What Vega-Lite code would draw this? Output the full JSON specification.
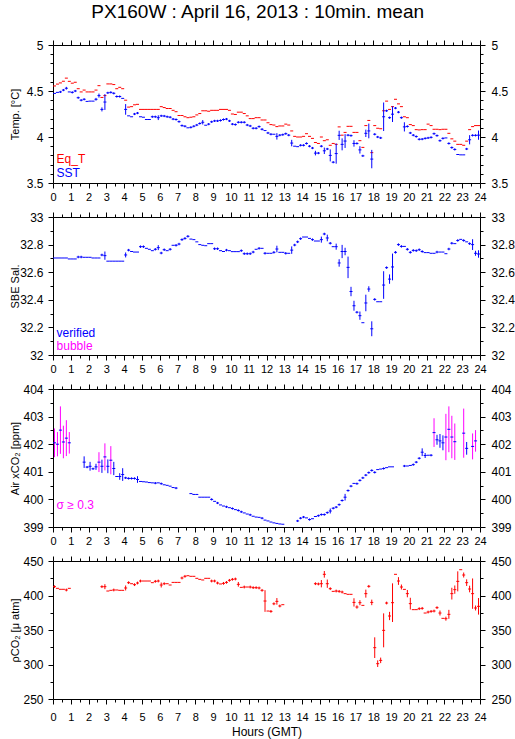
{
"$schema": "https://vega.github.io/schema/vega-lite/v6.json",
"title": {"text": "PX160W : April 16, 2013 : 10min. mean", "anchor": "middle", "fontSize": 19, "font": "Liberation Sans", "fontWeight": "normal", "color": "#000000", "offset": 17, "dx": -4},
"padding": {"left": 8, "top": 2, "right": 2, "bottom": 2},
"spacing": 34,
"bounds": "flush",
"resolve": {"scale": {"color": "independent"}},
"datasets": {
"eq": [
{"m":5,"v":4.555},{"m":15,"v":4.575},{"m":25,"v":4.588},{"m":35,"v":4.606},{"m":45,"v":4.64},{"m":55,"v":4.605},{"m":65,"v":4.585},{"m":75,"v":4.595},{"m":85,"v":4.525},{"m":95,"v":4.49},{"m":105,"v":4.51},{"m":115,"v":4.49},{"m":125,"v":4.49},{"m":135,"v":4.49},{"m":145,"v":4.51},{"m":155,"v":4.558},{"m":165,"v":4.43},{"m":175,"v":4.45},{"m":185,"v":4.577},{"m":195,"v":4.577},{"m":205,"v":4.57},{"m":215,"v":4.525},{"m":225,"v":4.54},{"m":235,"v":4.525},{"m":245,"v":4.4},{"m":255,"v":4.325},{"m":265,"v":4.33},{"m":275,"v":4.35},{"m":285,"v":4.355},{"m":295,"v":4.3},{"m":305,"v":4.3},{"m":315,"v":4.3},{"m":325,"v":4.3},{"m":335,"v":4.3},{"m":345,"v":4.3},{"m":355,"v":4.3},{"m":365,"v":4.33},{"m":375,"v":4.32},{"m":385,"v":4.31},{"m":395,"v":4.31},{"m":405,"v":4.29},{"m":415,"v":4.275},{"m":425,"v":4.234},{"m":435,"v":4.234},{"m":445,"v":4.22},{"m":455,"v":4.21},{"m":465,"v":4.215},{"m":475,"v":4.22},{"m":485,"v":4.24},{"m":495,"v":4.255},{"m":505,"v":4.285},{"m":515,"v":4.285},{"m":525,"v":4.28},{"m":535,"v":4.29},{"m":545,"v":4.29},{"m":555,"v":4.29},{"m":565,"v":4.3},{"m":575,"v":4.3},{"m":585,"v":4.3},{"m":595,"v":4.29},{"m":605,"v":4.25},{"m":615,"v":4.245},{"m":625,"v":4.27},{"m":635,"v":4.27},{"m":645,"v":4.255},{"m":655,"v":4.23},{"m":665,"v":4.2},{"m":675,"v":4.2},{"m":685,"v":4.21},{"m":695,"v":4.21},{"m":705,"v":4.185},{"m":715,"v":4.185},{"m":725,"v":4.155},{"m":735,"v":4.135},{"m":745,"v":4.13},{"m":755,"v":4.113},{"m":765,"v":4.12},{"m":775,"v":4.12},{"m":785,"v":4.14},{"m":795,"v":4.13},{"m":805,"v":4.066},{"m":815,"v":4.007},{"m":825,"v":4.0},{"m":835,"v":4.0},{"m":845,"v":4.007},{"m":855,"v":4.036},{"m":865,"v":4.007},{"m":875,"v":3.985},{"m":885,"v":3.94},{"m":895,"v":3.93},{"m":905,"v":4.0},{"m":915,"v":3.96},{"m":925,"v":3.97},{"m":935,"v":3.91},{"m":945,"v":3.93},{"m":955,"v":3.92},{"m":965,"v":4.11},{"m":975,"v":4.02},{"m":985,"v":4.05},{"m":995,"v":4.116},{"m":1005,"v":4.116},{"m":1015,"v":4.05},{"m":1025,"v":4.05},{"m":1035,"v":3.96},{"m":1045,"v":3.887},{"m":1055,"v":4.124},{"m":1065,"v":4.18},{"m":1075,"v":3.83},{"m":1085,"v":4.124},{"m":1095,"v":4.095},{"m":1105,"v":4.09},{"m":1115,"v":4.285},{"m":1125,"v":4.39},{"m":1135,"v":4.3},{"m":1145,"v":4.33},{"m":1155,"v":4.41},{"m":1165,"v":4.36},{"m":1175,"v":4.33},{"m":1185,"v":4.22},{"m":1195,"v":4.21},{"m":1205,"v":4.135},{"m":1215,"v":4.124},{"m":1225,"v":4.08},{"m":1235,"v":4.077},{"m":1245,"v":4.08},{"m":1255,"v":4.08},{"m":1265,"v":4.14},{"m":1275,"v":4.124},{"m":1285,"v":4.084},{"m":1295,"v":4.084},{"m":1305,"v":4.08},{"m":1315,"v":4.084},{"m":1325,"v":4.084},{"m":1335,"v":4.04},{"m":1345,"v":3.98},{"m":1355,"v":3.955},{"m":1365,"v":3.92},{"m":1375,"v":3.92},{"m":1385,"v":3.91},{"m":1395,"v":3.955},{"m":1405,"v":4.08},{"m":1415,"v":4.113},{"m":1425,"v":4.124},{"m":1435,"v":4.124}
],
"sst": [
{"m":5,"v":4.474},{"m":15,"v":4.485},{"m":25,"v":4.49,"e":0.012},{"m":35,"v":4.51,"e":0.012},{"m":45,"v":4.53,"e":0.015},{"m":55,"v":4.49},{"m":65,"v":4.485,"e":0.012},{"m":75,"v":4.5,"e":0.012},{"m":85,"v":4.427,"e":0.012},{"m":95,"v":4.4,"e":0.012},{"m":105,"v":4.41,"e":0.012},{"m":115,"v":4.387},{"m":125,"v":4.39},{"m":135,"v":4.39},{"m":145,"v":4.41,"e":0.015},{"m":155,"v":4.45,"e":0.022},{"m":165,"v":4.3,"e":0.022},{"m":175,"v":4.38,"e":0.086},{"m":185,"v":4.48,"e":0.012},{"m":195,"v":4.485,"e":0.012},{"m":205,"v":4.475,"e":0.012},{"m":215,"v":4.44,"e":0.012},{"m":225,"v":4.44,"e":0.012},{"m":235,"v":4.42},{"m":245,"v":4.3,"e":0.058},{"m":255,"v":4.23},{"m":265,"v":4.22},{"m":275,"v":4.25,"e":0.012},{"m":285,"v":4.26,"e":0.012},{"m":295,"v":4.22},{"m":305,"v":4.215},{"m":315,"v":4.19},{"m":325,"v":4.19},{"m":335,"v":4.22,"e":0.012},{"m":345,"v":4.22,"e":0.012},{"m":355,"v":4.21,"e":0.026},{"m":365,"v":4.23,"e":0.012},{"m":375,"v":4.228,"e":0.012},{"m":385,"v":4.22,"e":0.012},{"m":395,"v":4.215,"e":0.012},{"m":405,"v":4.195,"e":0.012},{"m":415,"v":4.19,"e":0.012},{"m":425,"v":4.167,"e":0.012},{"m":435,"v":4.124,"e":0.012},{"m":445,"v":4.117,"e":0.012},{"m":455,"v":4.1},{"m":465,"v":4.105,"e":0.012},{"m":475,"v":4.117,"e":0.012},{"m":485,"v":4.13,"e":0.012},{"m":495,"v":4.147,"e":0.012},{"m":505,"v":4.16,"e":0.024},{"m":515,"v":4.128},{"m":525,"v":4.14,"e":0.012},{"m":535,"v":4.165,"e":0.012},{"m":545,"v":4.175,"e":0.012},{"m":555,"v":4.175,"e":0.012},{"m":565,"v":4.18,"e":0.012},{"m":575,"v":4.19,"e":0.012},{"m":585,"v":4.195,"e":0.012},{"m":595,"v":4.175,"e":0.012},{"m":605,"v":4.14,"e":0.012},{"m":615,"v":4.135,"e":0.012},{"m":625,"v":4.16,"e":0.012},{"m":635,"v":4.16,"e":0.012},{"m":645,"v":4.16,"e":0.012},{"m":655,"v":4.13,"e":0.012},{"m":665,"v":4.12,"e":0.012},{"m":675,"v":4.095,"e":0.012},{"m":685,"v":4.095,"e":0.012},{"m":695,"v":4.113,"e":0.012},{"m":705,"v":4.084,"e":0.012},{"m":715,"v":4.07},{"m":725,"v":4.044,"e":0.012},{"m":735,"v":4.03,"e":0.012},{"m":745,"v":4.03},{"m":755,"v":4.007,"e":0.035},{"m":765,"v":4.02,"e":0.012},{"m":775,"v":4.025,"e":0.012},{"m":785,"v":4.036,"e":0.012},{"m":795,"v":4.02,"e":0.012},{"m":805,"v":3.934,"e":0.035},{"m":815,"v":3.9},{"m":825,"v":3.895},{"m":835,"v":3.91,"e":0.012},{"m":845,"v":3.91,"e":0.012},{"m":855,"v":3.93,"e":0.012},{"m":865,"v":3.9,"e":0.012},{"m":875,"v":3.88,"e":0.012},{"m":885,"v":3.825,"e":0.025},{"m":895,"v":3.825,"e":0.012},{"m":905,"v":3.9,"e":0.012},{"m":915,"v":3.85,"e":0.035},{"m":925,"v":3.87,"e":0.012},{"m":935,"v":3.8,"e":0.065},{"m":945,"v":3.726,"e":0.012},{"m":955,"v":3.82,"e":0.11},{"m":965,"v":4.018,"e":0.05},{"m":975,"v":3.92,"e":0.065},{"m":985,"v":3.956,"e":0.075},{"m":995,"v":4.02,"e":0.012},{"m":1005,"v":4.015,"e":0.012},{"m":1015,"v":3.93,"e":0.035},{"m":1025,"v":3.93,"e":0.012},{"m":1035,"v":3.86,"e":0.04},{"m":1045,"v":3.795,"e":0.012},{"m":1055,"v":4.04,"e":0.04},{"m":1065,"v":4.066,"e":0.08},{"m":1075,"v":3.76,"e":0.1},{"m":1085,"v":4.03,"e":0.012},{"m":1095,"v":4.0,"e":0.012},{"m":1105,"v":3.99,"e":0.012},{"m":1115,"v":4.22,"e":0.155},{"m":1125,"v":4.285,"e":0.012},{"m":1135,"v":4.21,"e":0.012},{"m":1145,"v":4.248,"e":0.085},{"m":1155,"v":4.314,"e":0.012},{"m":1165,"v":4.27,"e":0.012},{"m":1175,"v":4.21,"e":0.012},{"m":1185,"v":4.11,"e":0.05},{"m":1195,"v":4.115,"e":0.012},{"m":1205,"v":4.044,"e":0.012},{"m":1215,"v":4.02,"e":0.012},{"m":1225,"v":4.005,"e":0.012},{"m":1235,"v":3.975,"e":0.012},{"m":1245,"v":3.977,"e":0.012},{"m":1255,"v":3.985,"e":0.012},{"m":1265,"v":3.99,"e":0.012},{"m":1275,"v":3.996,"e":0.012},{"m":1285,"v":4.036,"e":0.012},{"m":1295,"v":4.015,"e":0.012},{"m":1305,"v":3.96,"e":0.012},{"m":1315,"v":3.985,"e":0.012},{"m":1325,"v":3.99},{"m":1335,"v":3.93,"e":0.012},{"m":1345,"v":3.885,"e":0.012},{"m":1355,"v":3.865,"e":0.012},{"m":1365,"v":3.81},{"m":1375,"v":3.806},{"m":1385,"v":3.806},{"m":1395,"v":3.87,"e":0.012},{"m":1405,"v":3.97,"e":0.05},{"m":1415,"v":4.018,"e":0.012},{"m":1425,"v":4.018,"e":0.012},{"m":1435,"v":4.02,"e":0.05}
],
"sal": [
{"m":5,"v":32.703},{"m":15,"v":32.703},{"m":25,"v":32.703},{"m":35,"v":32.703},{"m":45,"v":32.703},{"m":55,"v":32.696},{"m":65,"v":32.696},{"m":75,"v":32.696},{"m":85,"v":32.71,"e":0.009},{"m":95,"v":32.71,"e":0.009},{"m":105,"v":32.708},{"m":115,"v":32.708},{"m":125,"v":32.708},{"m":135,"v":32.703},{"m":145,"v":32.703},{"m":155,"v":32.703},{"m":165,"v":32.725,"e":0.009},{"m":175,"v":32.72,"e":0.03},{"m":185,"v":32.68},{"m":195,"v":32.68},{"m":205,"v":32.68},{"m":215,"v":32.68},{"m":225,"v":32.68},{"m":235,"v":32.68},{"m":245,"v":32.725,"e":0.018},{"m":255,"v":32.76,"e":0.009},{"m":265,"v":32.75},{"m":275,"v":32.746},{"m":285,"v":32.746},{"m":295,"v":32.785,"e":0.009},{"m":305,"v":32.785,"e":0.009},{"m":315,"v":32.773},{"m":325,"v":32.766},{"m":335,"v":32.756},{"m":345,"v":32.766,"e":0.009},{"m":355,"v":32.778,"e":0.018},{"m":365,"v":32.739,"e":0.009},{"m":375,"v":32.763,"e":0.009},{"m":385,"v":32.756},{"m":395,"v":32.766,"e":0.009},{"m":405,"v":32.795},{"m":415,"v":32.795,"e":0.009},{"m":425,"v":32.804,"e":0.009},{"m":435,"v":32.836,"e":0.009},{"m":445,"v":32.845,"e":0.009},{"m":455,"v":32.86,"e":0.009},{"m":465,"v":32.84},{"m":475,"v":32.836},{"m":485,"v":32.82},{"m":495,"v":32.8},{"m":505,"v":32.795},{"m":515,"v":32.792},{"m":525,"v":32.807},{"m":535,"v":32.807},{"m":545,"v":32.77,"e":0.009},{"m":555,"v":32.77,"e":0.009},{"m":565,"v":32.756},{"m":575,"v":32.75},{"m":585,"v":32.76,"e":0.009},{"m":595,"v":32.756},{"m":605,"v":32.749},{"m":615,"v":32.749},{"m":625,"v":32.749},{"m":635,"v":32.756,"e":0.009},{"m":645,"v":32.734,"e":0.009},{"m":655,"v":32.734,"e":0.009},{"m":665,"v":32.734,"e":0.009},{"m":675,"v":32.746,"e":0.009},{"m":685,"v":32.766},{"m":695,"v":32.773,"e":0.009},{"m":705,"v":32.773},{"m":715,"v":32.737,"e":0.009},{"m":725,"v":32.737},{"m":735,"v":32.737},{"m":745,"v":32.744,"e":0.009},{"m":755,"v":32.768,"e":0.024},{"m":765,"v":32.744},{"m":775,"v":32.744},{"m":785,"v":32.737,"e":0.009},{"m":795,"v":32.737},{"m":805,"v":32.76,"e":0.027},{"m":815,"v":32.797,"e":0.009},{"m":825,"v":32.82,"e":0.009},{"m":835,"v":32.843,"e":0.009},{"m":845,"v":32.855},{"m":855,"v":32.855},{"m":865,"v":32.845},{"m":875,"v":32.836,"e":0.009},{"m":885,"v":32.826},{"m":895,"v":32.826},{"m":905,"v":32.836,"e":0.022},{"m":915,"v":32.877,"e":0.009},{"m":925,"v":32.848,"e":0.024},{"m":935,"v":32.81,"e":0.009},{"m":945,"v":32.785},{"m":955,"v":32.785,"e":0.022},{"m":965,"v":32.667,"e":0.027},{"m":975,"v":32.75,"e":0.048},{"m":985,"v":32.75,"e":0.027},{"m":995,"v":32.635,"e":0.078},{"m":1005,"v":32.46,"e":0.034},{"m":1015,"v":32.357,"e":0.036},{"m":1025,"v":32.31,"e":0.009},{"m":1035,"v":32.285,"e":0.03},{"m":1045,"v":32.234},{"m":1055,"v":32.377,"e":0.06},{"m":1065,"v":32.478,"e":0.02},{"m":1075,"v":32.19,"e":0.054},{"m":1085,"v":32.403,"e":0.009},{"m":1095,"v":32.386},{"m":1105,"v":32.386},{"m":1115,"v":32.507,"e":0.1},{"m":1125,"v":32.633,"e":0.009},{"m":1135,"v":32.55,"e":0.034},{"m":1145,"v":32.638,"e":0.097},{"m":1155,"v":32.744,"e":0.009},{"m":1165,"v":32.8,"e":0.009},{"m":1175,"v":32.787,"e":0.009},{"m":1185,"v":32.787},{"m":1195,"v":32.766,"e":0.009},{"m":1205,"v":32.744,"e":0.009},{"m":1215,"v":32.758,"e":0.009},{"m":1225,"v":32.756,"e":0.009},{"m":1235,"v":32.763,"e":0.009},{"m":1245,"v":32.75,"e":0.009},{"m":1255,"v":32.742},{"m":1265,"v":32.742},{"m":1275,"v":32.737},{"m":1285,"v":32.737},{"m":1295,"v":32.746,"e":0.009},{"m":1305,"v":32.746},{"m":1315,"v":32.746},{"m":1325,"v":32.734},{"m":1335,"v":32.768,"e":0.009},{"m":1345,"v":32.81,"e":0.009},{"m":1355,"v":32.807},{"m":1365,"v":32.83,"e":0.009},{"m":1375,"v":32.838},{"m":1385,"v":32.83,"e":0.009},{"m":1395,"v":32.82},{"m":1405,"v":32.807,"e":0.009},{"m":1415,"v":32.8,"e":0.039},{"m":1425,"v":32.737,"e":0.018},{"m":1435,"v":32.732,"e":0.027}
],
"xco2": [
{"m":5,"v":402.05,"e":0.52},{"m":15,"v":402.0,"e":0.44},{"m":25,"v":402.51,"e":0.86},{"m":35,"v":402.08,"e":0.59},{"m":45,"v":402.22,"e":0.65},{"m":55,"v":402.05,"e":0.39},
{"m":105,"v":401.35,"e":0.21},{"m":115,"v":401.17,"e":0.04},{"m":125,"v":401.2,"e":0.16},{"m":135,"v":401.11,"e":0.04},{"m":145,"v":401.18,"e":0.11},{"m":155,"v":401.35,"e":0.36},{"m":165,"v":401.2,"e":0.24},{"m":175,"v":401.54,"e":0.49},{"m":185,"v":401.2,"e":0.25},{"m":195,"v":401.42,"e":0.51},{"m":205,"v":401.12,"e":0.24},{"m":215,"v":400.83},{"m":225,"v":400.83,"e":0.12},{"m":235,"v":400.9,"e":0.23},{"m":245,"v":400.78,"e":0.04},{"m":255,"v":400.76,"e":0.04},{"m":265,"v":400.76,"e":0.04},{"m":275,"v":400.76,"e":0.04},{"m":285,"v":400.72,"e":0.12},{"m":295,"v":400.65},{"m":305,"v":400.64},{"m":315,"v":400.63},{"m":325,"v":400.61},{"m":335,"v":400.6},{"m":345,"v":400.59,"e":0.04},{"m":355,"v":400.6},{"m":365,"v":400.57,"e":0.04},{"m":375,"v":400.53},{"m":385,"v":400.51},{"m":395,"v":400.48},{"m":405,"v":400.43},{"m":415,"v":400.41,"e":0.04},
{"m":465,"v":400.21},{"m":475,"v":400.18},{"m":485,"v":400.18},{"m":495,"v":400.08},{"m":505,"v":400.08},{"m":515,"v":400.08},{"m":525,"v":400.08},{"m":535,"v":400.0,"e":0.04},{"m":545,"v":399.93},{"m":555,"v":399.87,"e":0.04},{"m":565,"v":399.8},{"m":575,"v":399.76},{"m":585,"v":399.73,"e":0.04},{"m":595,"v":399.7},{"m":605,"v":399.67,"e":0.04},{"m":615,"v":399.63},{"m":625,"v":399.6,"e":0.04},{"m":635,"v":399.55,"e":0.04},{"m":645,"v":399.51},{"m":655,"v":399.47},{"m":665,"v":399.44,"e":0.04},{"m":675,"v":399.39},{"m":685,"v":399.36},{"m":695,"v":399.35},{"m":705,"v":399.32,"e":0.04},{"m":715,"v":399.25},{"m":725,"v":399.22},{"m":735,"v":399.18},{"m":745,"v":399.15},{"m":755,"v":399.13},{"m":765,"v":399.11},{"m":775,"v":399.1},
{"m":825,"v":399.22,"e":0.04},{"m":835,"v":399.32,"e":0.04},{"m":845,"v":399.36,"e":0.04},{"m":855,"v":399.33},{"m":865,"v":399.27,"e":0.04},{"m":875,"v":399.3},{"m":885,"v":399.38},{"m":895,"v":399.41,"e":0.04},{"m":905,"v":399.45,"e":0.04},{"m":915,"v":399.45,"e":0.04},{"m":925,"v":399.52,"e":0.04},{"m":935,"v":399.58,"e":0.09},{"m":945,"v":399.68,"e":0.04},{"m":955,"v":399.72,"e":0.04},{"m":965,"v":399.81,"e":0.04},{"m":975,"v":399.96,"e":0.04},{"m":985,"v":400.08,"e":0.12},{"m":995,"v":400.32,"e":0.04},{"m":1005,"v":400.48,"e":0.04},{"m":1015,"v":400.58},{"m":1025,"v":400.57,"e":0.04},{"m":1035,"v":400.69,"e":0.04},{"m":1045,"v":400.78,"e":0.04},{"m":1055,"v":400.88,"e":0.04},{"m":1065,"v":400.97,"e":0.04},{"m":1075,"v":401.05,"e":0.04},{"m":1085,"v":400.98,"e":0.04},{"m":1095,"v":401.08},{"m":1105,"v":401.1},{"m":1115,"v":401.12,"e":0.04},{"m":1125,"v":401.15},{"m":1135,"v":401.18},{"m":1145,"v":401.18},
{"m":1185,"v":401.21,"e":0.04},{"m":1195,"v":401.21},{"m":1205,"v":401.23},{"m":1215,"v":401.26,"e":0.04},{"m":1225,"v":401.35,"e":0.04},{"m":1235,"v":401.49,"e":0.04},{"m":1245,"v":401.71,"e":0.14},{"m":1255,"v":401.59,"e":0.09},{"m":1265,"v":401.6},{"m":1275,"v":401.6,"e":0.04},{"m":1285,"v":402.42,"e":0.52},{"m":1295,"v":402.16,"e":0.18},{"m":1305,"v":402.12,"e":0.25},{"m":1315,"v":402.05,"e":0.27},{"m":1325,"v":402.26,"e":0.84},{"m":1335,"v":402.54,"e":0.83},{"m":1345,"v":402.26,"e":0.77},{"m":1355,"v":402.09,"e":0.66},
{"m":1385,"v":402.4,"e":0.89},{"m":1395,"v":401.85,"e":0.23},{"m":1415,"v":401.92,"e":0.47},{"m":1425,"v":402.12,"e":0.39}
],
"pco2": [
{"m":5,"v":412.8,"e":2},{"m":15,"v":410.4},{"m":25,"v":409},{"m":35,"v":409},{"m":45,"v":408,"e":2},{"m":55,"v":410.4},
{"m":165,"v":412.8,"e":2},{"m":175,"v":412.8,"e":3.6},{"m":185,"v":406.5},{"m":195,"v":407.5},{"m":205,"v":408,"e":2},{"m":215,"v":408},{"m":225,"v":407.5},{"m":235,"v":407.5},{"m":245,"v":410.9,"e":3.6},{"m":255,"v":418.6,"e":2},{"m":265,"v":417.1},{"m":275,"v":415.7,"e":2},{"m":285,"v":418.1,"e":2},{"m":295,"v":421,"e":2},{"m":305,"v":421},{"m":315,"v":421},{"m":325,"v":421},{"m":335,"v":418.6},{"m":345,"v":420.5,"e":2},{"m":355,"v":421,"e":2},{"m":365,"v":415.2,"e":3.6},{"m":375,"v":417.1,"e":2},{"m":385,"v":417.1},{"m":395,"v":415.2},{"m":405,"v":419},{"m":415,"v":419},{"m":425,"v":419},{"m":435,"v":425.4,"e":2},{"m":445,"v":427.8,"e":2},{"m":455,"v":428.7},{"m":465,"v":427.8},{"m":475,"v":427.8},{"m":485,"v":424.9},{"m":495,"v":423.4},{"m":505,"v":422.5},{"m":515,"v":424.9},{"m":525,"v":424.9},{"m":535,"v":421,"e":2},{"m":545,"v":421,"e":2},{"m":555,"v":418.1,"e":2},{"m":565,"v":416.7},{"m":575,"v":417.6,"e":2},{"m":585,"v":419,"e":2},{"m":595,"v":422,"e":2},{"m":605,"v":423.4,"e":2},{"m":615,"v":423.9,"e":2},{"m":625,"v":416.2,"e":3.4},{"m":635,"v":411.8},{"m":645,"v":412.3,"e":2},{"m":655,"v":412.3},{"m":665,"v":412.3,"e":2},{"m":675,"v":411.4,"e":2},{"m":685,"v":411.4,"e":2},{"m":695,"v":410.9,"e":2},{"m":705,"v":407.5,"e":2},{"m":715,"v":392,"e":15.7},{"m":725,"v":377.5},{"m":735,"v":377,"e":2},{"m":745,"v":388,"e":2},{"m":755,"v":391.5,"e":4.8},{"m":765,"v":384.8,"e":2},{"m":775,"v":386.7},
{"m":885,"v":417.1,"e":2},{"m":895,"v":416.7,"e":2},{"m":905,"v":417.1,"e":5.3},{"m":915,"v":430.7,"e":4.8},{"m":925,"v":417.1,"e":6},{"m":935,"v":409.9,"e":2},{"m":945,"v":406},{"m":955,"v":406.5,"e":2},{"m":965,"v":406,"e":2},{"m":975,"v":405,"e":2},{"m":985,"v":402.7},{"m":995,"v":401.7},{"m":1005,"v":401.7},{"m":1015,"v":390,"e":6},{"m":1025,"v":383.3,"e":2.4},{"m":1035,"v":389.6,"e":3.6},{"m":1045,"v":385.7},{"m":1055,"v":402.7,"e":5.8},{"m":1065,"v":413.3,"e":2},{"m":1075,"v":390,"e":4},{"m":1085,"v":324.4,"e":15},{"m":1095,"v":301.2,"e":4.8},{"m":1105,"v":306,"e":4},{"m":1115,"v":349.5,"e":24.6},{"m":1125,"v":389.1,"e":2},{"m":1135,"v":370.3,"e":6},{"m":1145,"v":389.6,"e":28},{"m":1155,"v":430.7},{"m":1165,"v":421,"e":5.6},{"m":1175,"v":412.3,"e":3.6},{"m":1185,"v":408.9},{"m":1195,"v":402.7,"e":5.3},{"m":1205,"v":388.2,"e":8.5},{"m":1215,"v":379.5},{"m":1225,"v":379.5},{"m":1235,"v":380.9,"e":2},{"m":1245,"v":381.4,"e":2},{"m":1255,"v":374.6},{"m":1265,"v":376,"e":2},{"m":1275,"v":377,"e":2},{"m":1285,"v":377.5,"e":2},{"m":1295,"v":382.4,"e":2},{"m":1305,"v":374.6,"e":3.6},{"m":1315,"v":366.9},{"m":1325,"v":366.4,"e":2.9},{"m":1335,"v":372.7,"e":6.5},{"m":1345,"v":402.7,"e":8.5},{"m":1355,"v":408.5,"e":6},{"m":1365,"v":420.5,"e":14.5},{"m":1375,"v":437.4},{"m":1385,"v":429.7,"e":3.6},{"m":1395,"v":418.6,"e":4.8},{"m":1405,"v":409.4,"e":4.8},{"m":1415,"v":402.7,"e":22},{"m":1425,"v":381.9,"e":3.6},{"m":1435,"v":384.3,"e":12}
]
},
"vconcat": [
{
"width": 427, "height": 138,
"layer": [
{"data": {"name": "eq"}, "mark": {"type": "tick", "orient": "horizontal", "size": 3, "thickness": 1, "color": "#ff0000", "opacity": 1},
 "encoding": {
  "x": {"field": "m", "type": "quantitative", "scale": {"domain": [0, 1440], "nice": false, "zero": false},
   "axis": {"orient": "bottom", "title": null, "values": [0,30,60,90,120,150,180,210,240,270,300,330,360,390,420,450,480,510,540,570,600,630,660,690,720,750,780,810,840,870,900,930,960,990,1020,1050,1080,1110,1140,1170,1200,1230,1260,1290,1320,1350,1380,1410,1440], "labelExpr": "datum.value % 60 === 0 ? toString(datum.value / 60) : ''", "tickSize": {"condition": {"test": "datum.value % 60 === 0", "value": 5}, "value": 3}, "labelFontSize": 11, "labelPadding": 3}},
  "y": {"field": "v", "type": "quantitative", "scale": {"domain": [3.5, 5], "nice": false, "zero": false},
   "axis": {"orient": "left", "title": "Temp. [°C]", "titleX": -38, "titleBaseline": "middle", "values": [3.5,3.6,3.7,3.8,3.9,4,4.1,4.2,4.3,4.4,4.5,4.6,4.7,4.8,4.9,5], "labelExpr": "round(datum.value * 10) % 5 === 0 ? toString(datum.value) : ''", "tickSize": {"condition": {"test": "round(datum.value * 10) % 5 === 0", "value": 5}, "value": 3}, "labelPadding": 5}}
 }},
{"data": {"name": "sst"}, "transform": [{"filter": "datum.e > 0"}], "mark": {"type": "errorbar", "ticks": false, "color": "#0000ff", "thickness": 1},
 "encoding": {"x": {"field": "m", "type": "quantitative", "axis": null}, "y": {"field": "v", "type": "quantitative", "axis": null}, "yError": {"field": "e"}}},
{"data": {"name": "sst"}, "mark": {"type": "tick", "orient": "horizontal", "size": 3, "thickness": 1, "color": "#0000ff", "opacity": 1},
 "encoding": {"x": {"field": "m", "type": "quantitative", "axis": null}, "y": {"field": "v", "type": "quantitative", "axis": null}}},
{"data": {"values": [{"s": "Eq_T", "m": 12, "v": 3.761}, {"s": "SST", "m": 12, "v": 3.604}]},
 "mark": {"type": "text", "align": "left", "baseline": "middle", "fontSize": 12, "font": "Liberation Sans"},
 "encoding": {
  "x": {"field": "m", "type": "quantitative", "axis": {"orient": "top", "title": null, "labels": false, "values": [0,30,60,90,120,150,180,210,240,270,300,330,360,390,420,450,480,510,540,570,600,630,660,690,720,750,780,810,840,870,900,930,960,990,1020,1050,1080,1110,1140,1170,1200,1230,1260,1290,1320,1350,1380,1410,1440], "tickSize": {"condition": {"test": "datum.value % 60 === 0", "value": 5}, "value": 3}}},
  "y": {"field": "v", "type": "quantitative", "axis": {"orient": "right", "title": null, "values": [3.5,3.6,3.7,3.8,3.9,4,4.1,4.2,4.3,4.4,4.5,4.6,4.7,4.8,4.9,5], "labelExpr": "round(datum.value * 10) % 5 === 0 ? toString(datum.value) : ''", "tickSize": {"condition": {"test": "round(datum.value * 10) % 5 === 0", "value": 5}, "value": 3}, "labelPadding": 6}},
  "text": {"field": "s"},
  "color": {"field": "s", "type": "nominal", "scale": {"domain": ["Eq_T", "SST"], "range": ["#ff0000", "#0000ff"]}, "legend": null}
 }}
],
"resolve": {"axis": {"x": "independent", "y": "independent"}}
},
{
"width": 427, "height": 138,
"layer": [
{"data": {"name": "sal"}, "transform": [{"filter": "datum.e > 0"}], "mark": {"type": "errorbar", "ticks": false, "color": "#0000ff", "thickness": 1},
 "encoding": {"x": {"field": "m", "type": "quantitative", "scale": {"domain": [0, 1440], "nice": false, "zero": false}, "axis": null}, "y": {"field": "v", "type": "quantitative", "scale": {"domain": [32, 33], "nice": false, "zero": false}, "axis": null}, "yError": {"field": "e"}}},
{"data": {"name": "sal"}, "mark": {"type": "tick", "orient": "horizontal", "size": 3, "thickness": 1, "color": "#0000ff", "opacity": 1},
 "encoding": {
  "x": {"field": "m", "type": "quantitative",
   "axis": {"orient": "bottom", "title": null, "values": [0,30,60,90,120,150,180,210,240,270,300,330,360,390,420,450,480,510,540,570,600,630,660,690,720,750,780,810,840,870,900,930,960,990,1020,1050,1080,1110,1140,1170,1200,1230,1260,1290,1320,1350,1380,1410,1440], "labelExpr": "datum.value % 60 === 0 ? toString(datum.value / 60) : ''", "tickSize": {"condition": {"test": "datum.value % 60 === 0", "value": 5}, "value": 3}, "labelFontSize": 11, "labelPadding": 3}},
  "y": {"field": "v", "type": "quantitative",
   "axis": {"orient": "left", "title": "SBE Sal.", "titleX": -38, "titleBaseline": "middle", "values": [32,32.1,32.2,32.3,32.4,32.5,32.6,32.7,32.8,32.9,33], "labelExpr": "round(datum.value * 10) % 2 === 0 ? toString(datum.value) : ''", "tickSize": {"condition": {"test": "round(datum.value * 10) % 2 === 0", "value": 5}, "value": 3}, "labelPadding": 5}}
 }},
{"data": {"values": [{"s": "verified", "m": 12, "v": 32.162}, {"s": "bubble", "m": 12, "v": 32.067}]},
 "mark": {"type": "text", "align": "left", "baseline": "middle", "fontSize": 12, "font": "Liberation Sans"},
 "encoding": {
  "x": {"field": "m", "type": "quantitative", "axis": {"orient": "top", "title": null, "labels": false, "values": [0,30,60,90,120,150,180,210,240,270,300,330,360,390,420,450,480,510,540,570,600,630,660,690,720,750,780,810,840,870,900,930,960,990,1020,1050,1080,1110,1140,1170,1200,1230,1260,1290,1320,1350,1380,1410,1440], "tickSize": {"condition": {"test": "datum.value % 60 === 0", "value": 5}, "value": 3}}},
  "y": {"field": "v", "type": "quantitative", "axis": {"orient": "right", "title": null, "values": [32,32.1,32.2,32.3,32.4,32.5,32.6,32.7,32.8,32.9,33], "labelExpr": "round(datum.value * 10) % 2 === 0 ? toString(datum.value) : ''", "tickSize": {"condition": {"test": "round(datum.value * 10) % 2 === 0", "value": 5}, "value": 3}, "labelPadding": 6}},
  "text": {"field": "s"},
  "color": {"field": "s", "type": "nominal", "scale": {"domain": ["verified", "bubble"], "range": ["#0000ff", "#ff00ff"]}, "legend": null}
 }}
],
"resolve": {"axis": {"x": "independent", "y": "independent"}}
},
{
"width": 427, "height": 138,
"layer": [
{"data": {"name": "xco2"}, "transform": [{"filter": "datum.e > 0 && datum.e < 0.3"}], "mark": {"type": "errorbar", "ticks": false, "color": "#0000ff", "thickness": 1},
 "encoding": {"x": {"field": "m", "type": "quantitative", "scale": {"domain": [0, 1440], "nice": false, "zero": false}, "axis": null}, "y": {"field": "v", "type": "quantitative", "scale": {"domain": [399, 404], "nice": false, "zero": false}, "axis": null}, "yError": {"field": "e"}}},
{"data": {"name": "xco2"}, "transform": [{"filter": "datum.e >= 0.3"}], "mark": {"type": "errorbar", "ticks": false, "color": "#ff00ff", "thickness": 1},
 "encoding": {"x": {"field": "m", "type": "quantitative", "axis": null}, "y": {"field": "v", "type": "quantitative", "axis": null}, "yError": {"field": "e"}}},
{"data": {"name": "xco2"}, "mark": {"type": "tick", "orient": "horizontal", "size": 3, "thickness": 1, "color": "#0000ff", "opacity": 1},
 "encoding": {
  "x": {"field": "m", "type": "quantitative",
   "axis": {"orient": "bottom", "title": null, "values": [0,30,60,90,120,150,180,210,240,270,300,330,360,390,420,450,480,510,540,570,600,630,660,690,720,750,780,810,840,870,900,930,960,990,1020,1050,1080,1110,1140,1170,1200,1230,1260,1290,1320,1350,1380,1410,1440], "labelExpr": "datum.value % 60 === 0 ? toString(datum.value / 60) : ''", "tickSize": {"condition": {"test": "datum.value % 60 === 0", "value": 5}, "value": 3}, "labelFontSize": 11, "labelPadding": 3}},
  "y": {"field": "v", "type": "quantitative",
   "axis": {"orient": "left", "title": "Air xCO₂ [ppm]", "titleX": -38, "titleBaseline": "middle", "values": [399,399.5,400,400.5,401,401.5,402,402.5,403,403.5,404], "labelExpr": "datum.value % 1 === 0 ? toString(datum.value) : ''", "tickSize": {"condition": {"test": "datum.value % 1 === 0", "value": 5}, "value": 3}, "labelPadding": 5}}
 }},
{"data": {"values": [{"s": "σ ≥ 0.3", "m": 12, "v": 399.78}]},
 "mark": {"type": "text", "align": "left", "baseline": "middle", "fontSize": 12, "font": "Liberation Sans", "color": "#ff00ff"},
 "encoding": {
  "x": {"field": "m", "type": "quantitative", "axis": {"orient": "top", "title": null, "labels": false, "values": [0,30,60,90,120,150,180,210,240,270,300,330,360,390,420,450,480,510,540,570,600,630,660,690,720,750,780,810,840,870,900,930,960,990,1020,1050,1080,1110,1140,1170,1200,1230,1260,1290,1320,1350,1380,1410,1440], "tickSize": {"condition": {"test": "datum.value % 60 === 0", "value": 5}, "value": 3}}},
  "y": {"field": "v", "type": "quantitative", "axis": {"orient": "right", "title": null, "values": [399,399.5,400,400.5,401,401.5,402,402.5,403,403.5,404], "labelExpr": "datum.value % 1 === 0 ? toString(datum.value) : ''", "tickSize": {"condition": {"test": "datum.value % 1 === 0", "value": 5}, "value": 3}, "labelPadding": 6}},
  "text": {"field": "s"}
 }}
],
"resolve": {"axis": {"x": "independent", "y": "independent"}}
},
{
"width": 427, "height": 138,
"layer": [
{"data": {"name": "pco2"}, "transform": [{"filter": "datum.e > 0"}], "mark": {"type": "errorbar", "ticks": false, "color": "#ff0000", "thickness": 1},
 "encoding": {"x": {"field": "m", "type": "quantitative", "scale": {"domain": [0, 1440], "nice": false, "zero": false}, "axis": null}, "y": {"field": "v", "type": "quantitative", "scale": {"domain": [250, 450], "nice": false, "zero": false}, "axis": null}, "yError": {"field": "e"}}},
{"data": {"name": "pco2"}, "mark": {"type": "tick", "orient": "horizontal", "size": 3, "thickness": 1, "color": "#ff0000", "opacity": 1},
 "encoding": {
  "x": {"field": "m", "type": "quantitative",
   "axis": {"orient": "bottom", "title": "Hours (GMT)", "titleFontSize": 12, "titlePadding": 4, "values": [0,30,60,90,120,150,180,210,240,270,300,330,360,390,420,450,480,510,540,570,600,630,660,690,720,750,780,810,840,870,900,930,960,990,1020,1050,1080,1110,1140,1170,1200,1230,1260,1290,1320,1350,1380,1410,1440], "labelExpr": "datum.value % 60 === 0 ? toString(datum.value / 60) : ''", "tickSize": {"condition": {"test": "datum.value % 60 === 0", "value": 5}, "value": 3}, "labelFontSize": 11, "labelPadding": 7}},
  "y": {"field": "v", "type": "quantitative",
   "axis": {"orient": "left", "title": "ρCO₂ [μ atm]", "titleX": -38, "titleBaseline": "middle", "values": [250,275,300,325,350,375,400,425,450], "labelExpr": "datum.value % 50 === 0 ? toString(datum.value) : ''", "tickSize": {"condition": {"test": "datum.value % 50 === 0", "value": 5}, "value": 3}, "labelPadding": 5}}
 }},
{"data": {"values": [{"m": 12, "v": 440}]},
 "mark": {"type": "text", "text": "", "fontSize": 12},
 "encoding": {
  "x": {"field": "m", "type": "quantitative", "axis": {"orient": "top", "title": null, "labels": false, "values": [0,30,60,90,120,150,180,210,240,270,300,330,360,390,420,450,480,510,540,570,600,630,660,690,720,750,780,810,840,870,900,930,960,990,1020,1050,1080,1110,1140,1170,1200,1230,1260,1290,1320,1350,1380,1410,1440], "tickSize": {"condition": {"test": "datum.value % 60 === 0", "value": 5}, "value": 3}}},
  "y": {"field": "v", "type": "quantitative", "axis": {"orient": "right", "title": null, "values": [250,275,300,325,350,375,400,425,450], "labelExpr": "datum.value % 50 === 0 ? toString(datum.value) : ''", "tickSize": {"condition": {"test": "datum.value % 50 === 0", "value": 5}, "value": 3}, "labelPadding": 6}}
 }}
],
"resolve": {"axis": {"x": "independent", "y": "independent"}}
}
],
"config": {
 "font": "Liberation Sans",
 "view": {"stroke": "#000000", "strokeWidth": 1},
 "axis": {"domain": false, "grid": false, "tickColor": "#000000", "tickWidth": 1, "labelColor": "#000000", "labelFont": "Liberation Sans", "labelFontSize": 12, "titleFont": "Liberation Sans", "titleFontSize": 11, "titleFontWeight": "normal", "titleColor": "#000000", "labelOverlap": false, "labelFlush": false, "labelBound": false}
}
}
